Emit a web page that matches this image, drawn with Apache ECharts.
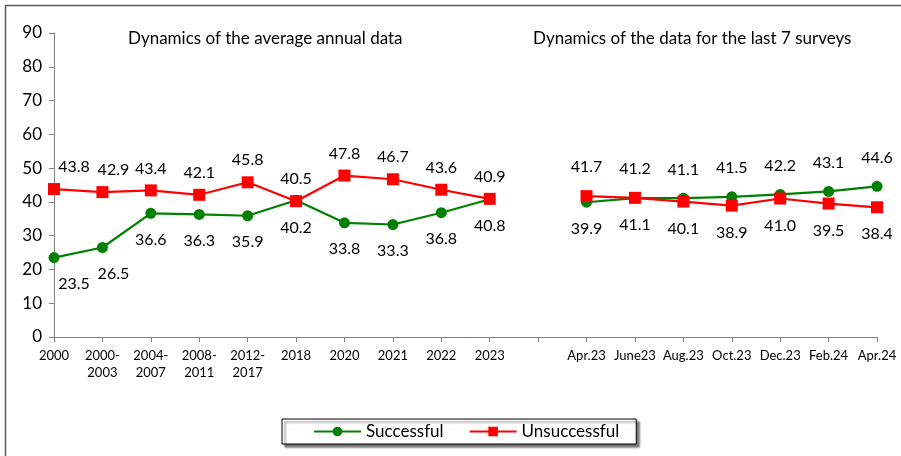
<!DOCTYPE html>
<html>
<head>
<meta charset="utf-8">
<script src="https://cdn.jsdelivr.net/npm/echarts@6/dist/echarts.min.js"></script>
<style>
  html, body { margin: 0; padding: 0; background: #fff; }
  #chart { width: 901px; height: 456px; }
</style>
</head>
<body>
<div id="chart"></div>
<script>
// categories (empty one is the gap between the two panels)
const categories = [
  "2000", "2000-\n2003", "2004-\n2007", "2008-\n2011", "2012-\n2017",
  "2018", "2020", "2021", "2022", "2023", "",
  "Apr.23", "June23", "Aug.23", "Oct.23", "Dec.23", "Feb.24", "Apr.24"
];
const successful = [23.5, 26.5, 36.6, 36.3, 35.9, 40.5, 33.8, 33.3, 36.8, 40.8, null,
  39.9, 41.1, 41.1, 41.5, 42.2, 43.1, 44.6];
const unsuccessful = [43.8, 42.9, 43.4, 42.1, 45.8, 40.2, 47.8, 46.7, 43.6, 40.9, null,
  41.7, 41.2, 40.1, 38.9, 41.0, 39.5, 38.4];
const yTicks = [0, 10, 20, 30, 40, 50, 60, 70, 80, 90];

const FONT = "Lato";

// higher value gets its label above, lower one below
function buildData(values, other) {
  return values.map((v, i) => {
    if (v == null) return null;
    const up = v >= other[i];
    const dx = i === 0 ? 20 : (i === 1 ? 11 : 0);
    return {
      value: v,
      label: {
        position: up ? "top" : "bottom",
        distance: up ? (i > 10 ? 15 : 8) : 13,
        offset: [dx, 0]
      }
    };
  });
}

const chart = echarts.init(document.getElementById("chart"));
chart.setOption({
  animation: false,
  textStyle: { fontFamily: FONT },
  graphic: [
    {
      type: "rect",
      shape: { x: 5.5, y: 5.5, width: 1000, height: 1000 },
      style: { fill: "none", stroke: "#595959", lineWidth: 1.5 },
      z: -10
    },
    {
      type: "text", left: 128, top: 30,
      style: { text: "Dynamics of the average annual data", font: "17px " + FONT, fill: "#000" }
    },
    {
      type: "text", left: 533, top: 30,
      style: { text: "Dynamics of the data for the last 7 surveys", font: "17px " + FONT, fill: "#000" }
    }
  ],
  grid: { left: 54, right: 24, top: 33, bottom: 119 },
  legend: {
    left: 282,
    top: 419,
    padding: [4, 17, 4, 31],
    itemGap: 25,
    itemWidth: 47,
    itemHeight: 12,
    backgroundColor: "#fff",
    borderColor: "#000",
    borderWidth: 1,
    shadowColor: "rgba(0,0,0,0.55)",
    shadowBlur: 2,
    shadowOffsetX: 3,
    shadowOffsetY: 3,
    textStyle: { fontSize: 17, color: "#000", fontFamily: FONT },
    data: ["Successful", "Unsuccessful"]
  },
  xAxis: {
    type: "category",
    data: categories,
    boundaryGap: false,
    axisLine: { lineStyle: { color: "#7f7f7f", width: 1 } },
    axisTick: { show: true, length: 5, interval: 0, lineStyle: { color: "#7f7f7f" } },
    axisLabel: {
      interval: 0, color: "#000", fontSize: 13, lineHeight: 17, margin: 10, fontFamily: FONT
    },
    splitLine: { show: false }
  },
  yAxis: {
    type: "value",
    min: yTicks[0],
    max: yTicks[yTicks.length - 1],
    interval: 10,
    axisLine: { show: true, lineStyle: { color: "#7f7f7f", width: 1 } },
    axisTick: { show: true, length: 5, lineStyle: { color: "#7f7f7f" } },
    axisLabel: { color: "#000", fontSize: 17, margin: 12, fontFamily: FONT },
    splitLine: { show: false }
  },
  series: [
    {
      name: "Successful",
      type: "line",
      data: buildData(successful, unsuccessful),
      symbol: "circle",
      symbolSize: 11,
      itemStyle: { color: "#008000" },
      lineStyle: { color: "#008000", width: 2.2 },
      label: { show: true, color: "#000", fontSize: 16, fontFamily: FONT, formatter: p => p.value.toFixed(1) },
      z: 2
    },
    {
      name: "Unsuccessful",
      type: "line",
      data: buildData(unsuccessful, successful),
      symbol: "rect",
      symbolSize: 12,
      itemStyle: { color: "#ff0000" },
      lineStyle: { color: "#ff0000", width: 2.2 },
      label: { show: true, color: "#000", fontSize: 16, fontFamily: FONT, formatter: p => p.value.toFixed(1) },
      z: 3
    }
  ]
});
</script>
</body>
</html>
